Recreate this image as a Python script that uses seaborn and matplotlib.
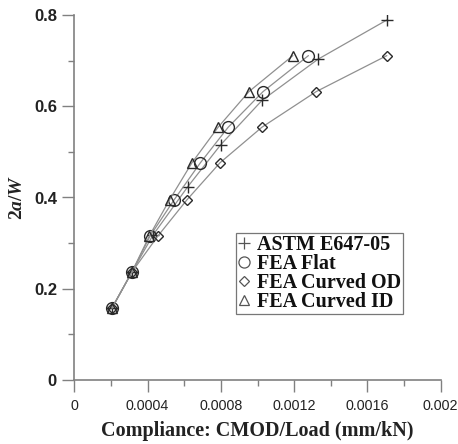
import matplotlib
matplotlib.use("Agg")
import matplotlib.pyplot as plt
import seaborn as sns
import pandas as pd
from matplotlib.lines import Line2D
from matplotlib.ticker import MultipleLocator

sns.set_theme(style="white")
plt.rcParams['font.family'] = ['DejaVu Sans']
plt.rcParams['mathtext.fontset'] = 'custom'
plt.rcParams['mathtext.it'] = 'Liberation Serif:italic:bold'
plt.rcParams['mathtext.rm'] = 'Liberation Serif:bold'
plt.rcParams['mathtext.bf'] = 'Liberation Serif:bold'

# Data
fea_y = [0.158, 0.237, 0.316, 0.395, 0.476, 0.554, 0.632, 0.711]
flat_x = [0.000206, 0.000315, 0.000414, 0.000545, 0.000688, 0.000840, 0.001030, 0.001278]
id_x = [0.000206, 0.000315, 0.000410, 0.000520, 0.000642, 0.000785, 0.000953, 0.001193]
od_x = [0.000206, 0.000315, 0.000457, 0.000615, 0.000795, 0.001024, 0.001320, 0.001706]
astm_x = [0.000206, 0.000315, 0.000430, 0.000620, 0.000800, 0.001025, 0.001330, 0.001706]
astm_y = [0.158, 0.237, 0.318, 0.424, 0.516, 0.613, 0.703, 0.789]

series_names = ["ASTM E647-05", "FEA Flat", "FEA Curved OD", "FEA Curved ID"]
markers = ["+", "o", "D", "^"]
msizes = [9, 8.5, 5.5, 7.5]

frames = [
    pd.DataFrame({"x": astm_x, "y": astm_y, "s": series_names[0]}),
    pd.DataFrame({"x": flat_x, "y": fea_y, "s": series_names[1]}),
    pd.DataFrame({"x": od_x, "y": fea_y, "s": series_names[2]}),
    pd.DataFrame({"x": id_x, "y": fea_y, "s": series_names[3]}),
]

fig = plt.figure(figsize=(4.58, 4.44), dpi=100)
ax = fig.add_axes([74.3 / 458, (444 - 380) / 444, (440.7 - 74.3) / 458, 365 / 444])

for df, m, ms in zip(frames, markers, msizes):
    sns.lineplot(data=df, x="x", y="y", ax=ax, sort=False, color="#909090", lw=0.9,
                 marker=m, markersize=ms, markerfacecolor="none",
                 markeredgecolor="#2a2a2a", markeredgewidth=1.0, legend=False)

ax.set_xlim(0, 0.002)
ax.set_ylim(0, 0.8)
ax.xaxis.set_minor_locator(MultipleLocator(0.0002))
ax.yaxis.set_minor_locator(MultipleLocator(0.1))
ax.set_xticks([0, 0.0004, 0.0008, 0.0012, 0.0016, 0.002])
ax.set_xticklabels(["0", "0.0004", "0.0008", "0.0012", "0.0016", "0.002"])
ax.set_yticks([0, 0.2, 0.4, 0.6, 0.8])
ax.set_yticklabels(["0", "0.2", "0.4", "0.6", "0.8"])

for s in ["top", "right"]:
    ax.spines[s].set_visible(False)
for s in ["left", "bottom"]:
    ax.spines[s].set_color("#808080")
    ax.spines[s].set_linewidth(1.2)

ax.tick_params(which="major", direction="out", length=8.5, width=1.0, color="#808080",
               left=True, bottom=True)
ax.tick_params(which="minor", direction="out", length=4.3, width=1.0, color="#808080",
               left=True, bottom=True)
ax.tick_params(axis="y", which="major", pad=4)
ax.tick_params(axis="x", which="major", pad=5)
for lab in ax.get_yticklabels():
    lab.set_fontfamily("Liberation Sans")
    lab.set_fontweight("bold")
    lab.set_fontsize(12)
    lab.set_color("#222222")
for lab in ax.get_xticklabels():
    lab.set_fontfamily("Liberation Sans")
    lab.set_fontsize(10.3)
    lab.set_color("#222222")

ax.set_xlabel("Compliance: CMOD/Load (mm/kN)", fontfamily="Liberation Serif",
              fontweight="bold", fontsize=14.5, color="#222222", labelpad=6)
ax.set_ylabel(r"$\mathrm{2}\mathit{a}\mathrm{/}\mathit{W}$", fontsize=14,
              color="#222222", labelpad=6)

handles = [Line2D([], [], ls="none", marker=m, markersize=ms, markerfacecolor="none",
                  markeredgecolor="#555555", markeredgewidth=0.9)
           for m, ms in zip(markers, [8.5, 8, 5, 7])]
leg = ax.legend(handles, series_names, loc="upper left",
                bbox_to_anchor=((236 - 74.3) / 366.4, (380 - 233) / 365),
                frameon=True, fancybox=False, borderpad=0.1, labelspacing=-0.05,
                handlelength=0.6, handletextpad=0.35, borderaxespad=0,
                prop={"family": "Liberation Serif", "weight": "bold", "size": 14.5})
leg.get_frame().set_edgecolor("#555555")
leg.get_frame().set_linewidth(0.9)
for t in leg.get_texts():
    t.set_color("#111111")

fig.savefig("out.png", dpi=100)
